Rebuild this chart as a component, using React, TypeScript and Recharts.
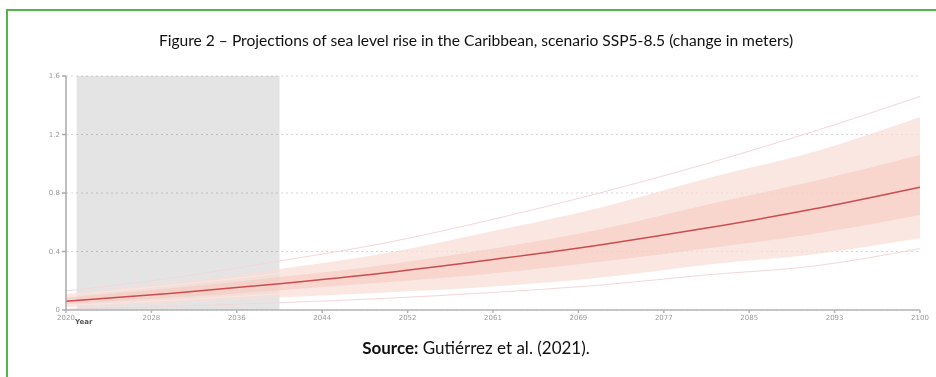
import React from 'react';
import {
  ComposedChart,
  Area,
  Line,
  XAxis,
  YAxis,
  CartesianGrid,
  ReferenceArea,
} from 'recharts';

const years = [2020, 2030, 2040, 2050, 2060, 2070, 2080, 2090, 2100];
const median = [0.06, 0.115, 0.18, 0.255, 0.345, 0.445, 0.56, 0.69, 0.84];
const faintTop = [0.13, 0.22, 0.335, 0.46, 0.62, 0.8, 1.0, 1.22, 1.46];
const bandTop = [0.11, 0.19, 0.28, 0.39, 0.54, 0.7, 0.9, 1.08, 1.32];
const upperMid = [0.1, 0.17, 0.25, 0.35, 0.48, 0.62, 0.81, 0.98, 1.19];
const innerTop = [0.085, 0.15, 0.225, 0.31, 0.42, 0.55, 0.72, 0.88, 1.06];
const innerBottom = [0.04, 0.085, 0.135, 0.19, 0.25, 0.33, 0.42, 0.52, 0.65];
const lowerMid = [0.03, 0.067, 0.11, 0.155, 0.205, 0.275, 0.365, 0.45, 0.57];
const bandBottom = [0.02, 0.05, 0.085, 0.12, 0.16, 0.22, 0.31, 0.38, 0.49];
const faintBottom = [0.005, 0.025, 0.05, 0.08, 0.12, 0.17, 0.24, 0.3, 0.42];

const xTicks = [2020, 2028, 2036, 2044, 2052, 2060, 2068, 2076, 2084, 2092, 2100];
const xTickLabels = ['2020', '2028', '2036', '2044', '2052', '2061', '2069', '2077', '2085', '2093', '2100'];
const yTicks = [0, 0.4, 0.8, 1.2, 1.6];
const yTickLabels = ['0', '0.4', '0.8', '1.2', '1.6'];

const data = years.map((year, i) => ({
  year,
  median: median[i],
  faintTop: faintTop[i],
  faintBottom: faintBottom[i],
  upperMid: upperMid[i],
  lowerMid: lowerMid[i],
  outer: [bandBottom[i], bandTop[i]],
  inner: [innerBottom[i], innerTop[i]],
}));

const tickStyle = { fontSize: 7, fill: '#9a9a9a', fontFamily: 'DejaVu Sans' };

export default function App() {
  return (
    <div
      style={{
        position: 'absolute',
        left: 0,
        top: 0,
        width: 936,
        height: 377,
        background: '#fff',
        overflow: 'hidden',
      }}
    >
      <div
        style={{
          position: 'absolute',
          left: 6,
          top: 9,
          right: 0,
          bottom: -10,
          borderTop: '2px solid #55b34e',
          borderLeft: '2px solid #55b34e',
        }}
      />
      <div
        style={{
          position: 'absolute',
          left: 16,
          width: 920,
          top: 31,
          textAlign: 'center',
          fontFamily: 'Lato',
          fontSize: 15.6,
          color: '#111',
        }}
      >
        Figure 2 – Projections of sea level rise in the Caribbean, scenario SSP5-8.5 (change in meters)
      </div>

      <ComposedChart width={936} height={377} data={data} margin={{ top: 76, right: 16, bottom: 47, left: 30 }}>
        <CartesianGrid vertical={false} stroke="#d6d6d6" strokeDasharray="2 3" />
        <ReferenceArea
          x1={2021}
          x2={2040}
          y1={0}
          y2={1.6}
          fill="#e4e4e4"
          fillOpacity={1}
          stroke="none"
          zIndex={-1}
          style={{ mixBlendMode: 'multiply' }}
        />
        <XAxis
          dataKey="year"
          type="number"
          domain={[2020, 2100]}
          ticks={xTicks}
          tickFormatter={(v: number) => xTickLabels[xTicks.indexOf(v)]}
          tick={tickStyle}
          tickSize={3}
          height={20}
          stroke="#b5b5b5"
          strokeWidth={1.5}
          interval={0}
        />
        <YAxis
          type="number"
          domain={[0, 1.6]}
          ticks={yTicks}
          tickFormatter={(v: number) => yTickLabels[yTicks.indexOf(v)]}
          tick={tickStyle}
          tickSize={4}
          width={36}
          stroke="#a8a8a8"
          strokeWidth={1.5}
          interval={0}
        />
        <Area
          type="monotone"
          dataKey="outer"
          fill="#f9ddd6"
          fillOpacity={0.7}
          stroke="none"
          isAnimationActive={false}
        />
        <Area
          type="monotone"
          dataKey="inner"
          fill="#f5c7bb"
          fillOpacity={0.55}
          stroke="none"
          isAnimationActive={false}
        />
        <Line type="monotone" dataKey="faintTop" stroke="#f3d7d9" strokeWidth={1} dot={false} isAnimationActive={false} />
        <Line type="monotone" dataKey="faintBottom" stroke="#f3d7d9" strokeWidth={1} dot={false} isAnimationActive={false} />
        <Line type="monotone" dataKey="upperMid" stroke="#fbe6e1" strokeWidth={1} dot={false} isAnimationActive={false} />
        <Line type="monotone" dataKey="lowerMid" stroke="#fbe6e1" strokeWidth={1} dot={false} isAnimationActive={false} />
        <Line type="monotone" dataKey="median" stroke="#cc4b50" strokeWidth={1.5} dot={false} isAnimationActive={false} />
      </ComposedChart>

      <div
        style={{
          position: 'absolute',
          left: 75,
          top: 318,
          fontFamily: 'DejaVu Sans',
          fontSize: 7,
          fontWeight: 'bold',
          color: '#555',
        }}
      >
        Year
      </div>

      <div
        style={{
          position: 'absolute',
          left: 16,
          width: 920,
          top: 337,
          textAlign: 'center',
          fontFamily: 'Lato',
          fontSize: 17,
          color: '#111',
        }}
      >
        <b>Source:</b> Gutiérrez et al. (2021).
      </div>
    </div>
  );
}
